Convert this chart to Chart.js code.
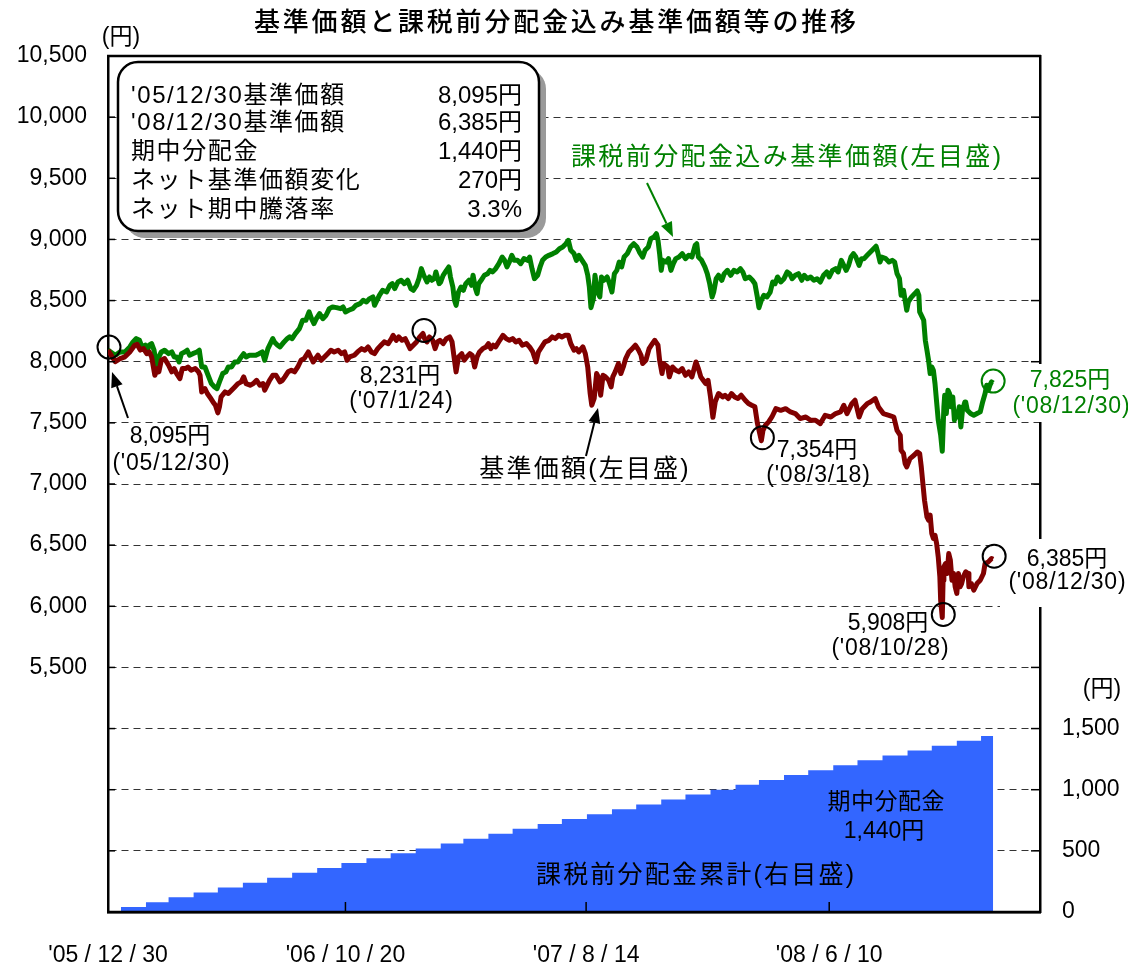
<!DOCTYPE html>
<html>
<head>
<meta charset="utf-8">
<script src="https://cdn.jsdelivr.net/npm/chart.js@4.4.1/dist/chart.umd.min.js"></script>
<style>
  html, body { margin: 0; padding: 0; background: #fff; }
  #wrap { width: 1128px; height: 969px; }
</style>
</head>
<body>
<div id="wrap"><canvas id="chart" width="1128" height="969"></canvas></div>
<script>
// --- data (x = days since '05/12/30) ---
const START = '2005-12-30';
const END = '2008-12-30';
const xTickDates = ['2005-12-30', '2006-10-20', '2007-08-14', '2008-06-10'];
const xTickLabels = ["'05 / 12 / 30", "'06 / 10 / 20", "'07 / 8 / 14", "'08 / 6 / 10"];

// 基準価額
const navDays = [
  0,9,15,21,27,33,36,40,44,48, 51,54,58,61,63,66,70,75,79,82, 85,89,92,96,99,103,108,112,114,116,
  120,123,126,130,133,136,138,140,145,149, 153,157,161,165,168,171,176,180,184,188, 192,194,196,200,204,208,213,216,219,223,
  227,231,235,239,243,248,250,254,257,260, 264,268,272,276,280,285,289,293,296,299,
  305,309,314,318,322,326,330,334,338,342, 347,351,353,357,360,364,368,371,374,378, 382,386,390,392,395,398,402,405,408,411,
  415,419,423,426,429,431,434,438,441,444, 448,451,454,457,460,464,468,471,474,477, 480,485,489,493,497,501,505,509,513,518,
  522,526,530,533,537,541,546,550,554,558, 562,566,570,573,577,580,583,588,591,594,
  597,599,602,605,607,610,613,616,620,623, 625,628,632,635,638,641,645,649,653,657, 660,662,666,670,674,677,681,683,686,688,
  693,695,699,703,707,711,715,719,723,728, 731,734,737,740,743,746,749,752,756,761, 764,768,772,776,780,784,789,793,797,801,
  804,809,
  811,814,818,822,827,833,839,845,851,857, 864,870,876,882,888,895,901,907,911,915, 921,925,930,934,940,944,950,954,960,967,
  973,
  977,981,982,985,987,989,993,998,1002,1005, 1007,1009,1011,1014,1016,1018,1020,1022,1024,1026,
  1028,1030,1031,1033,1034,1035,1037,1039,1041,1043, 1045,1047,1049,1051,1053,1055,1057,1059,1062,1065,
  1066,1069,1072,1076,1080,1084,1086,1090,1094,1096
];
const nav = [
  8095,8000,8025,8040,8080,8135,8143,8095,8107,8066, 8080,8040,7889,7944,7917,8012,8026,7971,7917,7944, 7903,7862,7944,7944,7957,7930,7944,7917,7889,7753,
  7780,7740,7712,7671,7644,7582,7631,7712,7753,7740, 7767,7794,7821,7835,7876,7821,7808,7821,7848,7808, 7821,7767,7794,7848,7889,7889,7835,7848,7876,7917,
  7930,7917,7957,8012,8026,8080,8053,7998,8026,8053, 8012,8039,8066,8094,8080,8094,8066,8080,8012,8039,
  8053,8080,8107,8094,8121,8080,8066,8107,8135,8162, 8148,8189,8216,8175,8203,8175,8189,8148,8107,8135, 8162,8203,8231,8189,8162,8203,8175,8107,8162,8175,
  8148,8189,8203,8162,8012,7917,8039,8066,8012,8039, 8066,8053,7957,8039,8080,8107,8121,8148,8107,8135, 8121,8175,8216,8189,8175,8189,8162,8175,8135,8148,
  8121,8080,7998,8080,8121,8162,8175,8203,8189,8216, 8203,8216,8216,8148,8094,8107,8080,8121,8066,7957,
  7740,7644,7699,7903,7876,7726,7889,7876,7848,7794, 7876,7917,7985,7903,7957,8026,8080,8107,8135,8094, 8053,7985,8012,8107,8148,8175,8135,8012,7903,7985,
  7957,7876,7957,7930,7917,7944,7889,7917,7876,7998, 7944,7876,7848,7821,7848,7712,7545,7675,7740,7712, 7726,7699,7740,7712,7699,7726,7685,7658,7644,7631,
  7500,7354,
  7439,7480,7508,7548,7616,7603,7616,7589,7576,7535, 7548,7521,7521,7494,7562,7548,7576,7589,7644,7576, 7657,7685,7548,7616,7657,7671,7698,7630,7576,7562,
  7548,
  7439,7398,7276,7249,7167,7140,7208,7235,7262,7249, 7140,7003,6867,6731,6704,6745,6595,6554,6581,6513,
  6404,6241,6050,5908,6213,6322,6350,6268,6431,6377, 6213,6268,6159,6105,6268,6159,6186,6241,6282,6268,
  6159,6186,6132,6186,6213,6268,6350,6363,6391,6385
];

// 課税前分配金込み基準価額
const adjDays = [
  0,9,15,21,27,31,35,39,42,46, 48,51,54,57,60,63,66,70,75,79, 82,85,88,91,95,98,101,105,110,113,
  116,120,124,128,132,135,138,142,146,149, 153,157,161,165,168,171,175,179,183,187, 191,194,198,204,206,210,213,218,222,225,
  228,232,237,241,245,249,252,255,258,262, 266,270,274,278,283,288,291,294,298,
  303,307,312,316,320,324,328,330,333,336, 340,345,349,352,355,359,363,367,371,375, 378,382,385,388,391,395,398,401,404,406,
  410,412,415,419,422,424,427,429,431,434, 437,440,443,447,450,452,455,457,459,462, 466,470,473,476,480,484,488,491,494,497,
  500,503,507,511,515,520,522,525,528,532, 535,538,542,546,551,555,559,563,567,570, 573,577,580,583,587,591,594,596,598,
  601,603,606,609,611,614,618,621,624,627, 630,633,636,639,643,647,651,655,658,662, 665,669,672,676,679,681,683,685,687,691,
  694,697,700,703,707,711,715,719,723,727, 729,731,735,739,742,745,748,750,753,756, 760,763,767,771,775,779,783,786,789,794,
  798,801,804,806,809,812,816,820,823,826, 829,833,837,841,844,847,851,855,859,862, 866,870,874,878,882,886,890,
  893,897,901,904,908,911,914,917,920,923, 926,930,933,936,940,944,948,951,953,956, 958,963,967,971,974,977,980,982,985,987,
  989,991,995,999,1002,1004,1005,1008,1010,1012, 1014,1016,1018,1020,1022,1024,1026,1028,1031,1033,
  1035,1036,1038,1040,1042,1044,1046,1048,1050,1052, 1054,1056,1058,1061,1062,1064,1068,1072,1076,1080,
  1083,1086,1088,1090,1092,1094,1096
];
const adj = [
  8095,8053,8080,8080,8121,8162,8189,8175,8121,8135, 8080,8135,8148,8094,7971,8039,8080,8094,8066,8080, 8039,8039,7998,8066,8080,8094,8053,8066,8080,8094,
  7957,7957,7889,7821,7794,7780,7835,7903,7917,7957, 7957,7998,7998,8039,8066,8039,8053,8053,8053,8066, 8080,8012,8107,8189,8162,8135,8121,8162,8189,8203,
  8189,8230,8271,8339,8339,8407,8352,8312,8352,8393, 8352,8380,8434,8448,8442,8434,8448,8407,8421,
  8434,8461,8475,8502,8489,8516,8530,8461,8502,8543, 8584,8570,8625,8638,8598,8652,8666,8638,8666,8598, 8584,8625,8679,8761,8707,8652,8693,8666,8679,8734,
  8638,8652,8707,8747,8775,8693,8611,8502,8461,8570, 8611,8584,8638,8666,8625,8707,8598,8557,8638,8666, 8707,8720,8747,8734,8761,8802,8856,8829,8775,8816,
  8870,8829,8829,8802,8843,8829,8856,8761,8679,8707, 8775,8829,8856,8870,8884,8897,8924,8938,8965,8993, 8911,8884,8829,8870,8829,8788,8707,8611,8442,
  8516,8707,8570,8530,8693,8666,8693,8638,8570,8720, 8747,8815,8775,8856,8884,8938,8965,8938,8897,8856, 8911,8938,9006,9020,9047,8993,8884,8747,8829,8815,
  8843,8747,8802,8843,8856,8884,8843,8870,8856,8952, 8965,8856,8829,8775,8720,8638,8529,8570,8679,8707, 8666,8720,8747,8707,8747,8734,8761,8734,8679,8693,
  8666,8638,8529,8442,8502,8543,8530,8570,8652,8638, 8693,8652,8679,8734,8720,8679,8707,8720,8666,8707, 8679,8693,8666,8679,8652,8707,8734,
  8693,8747,8761,8734,8829,8788,8747,8788,8856,8884, 8856,8788,8843,8843,8870,8897,8924,8944,8897,8815, 8856,8843,8815,8829,8815,8720,8679,8543,8584,8502,
  8421,8489,8530,8557,8579,8543,8407,8366,8339,8175, 8094,8012,7903,7957,7930,7821,7671,7522,7400,7268,
  7631,7726,7576,7767,7740,7631,7712,7522,7590,7549, 7631,7467,7603,7671,7671,7603,7576,7562,7576,7590,
  7671,7740,7808,7767,7808,7835,7825
];

// 課税前分配金累計 (monthly, 40円 each)
const distDates = [
  '2006-01-15','2006-02-15','2006-03-15','2006-04-15','2006-05-15','2006-06-15',
  '2006-07-15','2006-08-15','2006-09-15','2006-10-15','2006-11-15','2006-12-15',
  '2007-01-15','2007-02-15','2007-03-15','2007-04-15','2007-05-15','2007-06-15',
  '2007-07-15','2007-08-15','2007-09-15','2007-10-15','2007-11-15','2007-12-15',
  '2008-01-15','2008-02-15','2008-03-15','2008-04-15','2008-05-15','2008-06-15',
  '2008-07-15','2008-08-15','2008-09-15','2008-10-15','2008-11-15','2008-12-15'
];
const distCum = [
  40,80,120,160,200,240,280,320,360,400,440,480,
  520,560,600,640,680,720,760,800,840,880,920,960,
  1000,1040,1080,1120,1160,1200,1240,1280,1320,1360,1400,1440
];

// --- helpers ---
function dayOf(s) { return (Date.parse(s) - Date.parse(START)) / 86400000; }
const LAT = '"Liberation Sans", "Noto Sans CJK JP", sans-serif';
const JP = '"Noto Sans CJK JP", sans-serif';
const fmt = v => v.toLocaleString('en-US');

function txt(ctx, s, x, y, o) {
  ctx.save();
  ctx.font = o.font;
  ctx.fillStyle = o.color || '#000';
  ctx.textAlign = o.align || 'center';
  ctx.textBaseline = 'middle';
  const ls = o.ls || 0;
  ctx.letterSpacing = ls + 'px';
  let dx = 0;
  if (ls && ctx.textAlign === 'center') dx = ls / 2;
  if (ls && ctx.textAlign === 'right') dx = ls;
  ctx.fillText(s, x + dx, y);
  ctx.restore();
}

function arrow(ctx, x1, y1, x2, y2, color) {
  const a = Math.atan2(y2 - y1, x2 - x1), L = 15, W = 6;
  const bx = x2 - L * Math.cos(a), by = y2 - L * Math.sin(a);
  ctx.save();
  ctx.strokeStyle = color; ctx.fillStyle = color; ctx.lineWidth = 2;
  ctx.beginPath(); ctx.moveTo(x1, y1); ctx.lineTo(bx, by); ctx.stroke();
  ctx.beginPath();
  ctx.moveTo(x2, y2);
  ctx.lineTo(bx + W * Math.sin(a), by - W * Math.cos(a));
  ctx.lineTo(bx - W * Math.sin(a), by + W * Math.cos(a));
  ctx.closePath(); ctx.fill();
  ctx.restore();
}

function ring(ctx, x, y, color) {
  ctx.save();
  ctx.strokeStyle = color; ctx.lineWidth = 2;
  ctx.beginPath(); ctx.arc(x, y, 11.5, 0, Math.PI * 2); ctx.stroke();
  ctx.restore();
}

// --- annotations ---
const deco = {
  id: 'deco',
  afterDatasetsDraw(chart) {
    const ctx = chart.ctx, a = chart.chartArea;
    const sx = chart.scales.x, sy = chart.scales.y;
    const P = (d, v) => [sx.getPixelForValue(d), sy.getPixelForValue(v)];

    // white backgrounds behind right-hand labels (they cut the frame)
    ctx.fillStyle = '#fff';
    ctx.fillRect(1006, 364, 122, 58);
    ctx.fillRect(1000, 539, 128, 68);

    // frame: top line, bottom axis redrawn over the fill
    ctx.save();
    ctx.strokeStyle = '#000'; ctx.lineWidth = 2.5;
    ctx.beginPath(); ctx.moveTo(a.left - 1, a.top); ctx.lineTo(a.right + 1, a.top); ctx.stroke();
    ctx.beginPath(); ctx.moveTo(a.left - 1, a.bottom); ctx.lineTo(a.right + 1, a.bottom); ctx.stroke();
    // inward ticks
    ctx.lineWidth = 1.5;
    for (let v = 4000; v <= 10000; v += 500) {
      const y = sy.getPixelForValue(v);
      const coveredR = (y > 362 && y < 423) || (y > 537 && y < 608);
      ctx.beginPath(); ctx.moveTo(a.left, y); ctx.lineTo(a.left + 7, y); ctx.stroke();
      if (!coveredR) { ctx.beginPath(); ctx.moveTo(a.right - 9, y); ctx.lineTo(a.right, y); ctx.stroke(); }
    }
    xTickDates.forEach(d => {
      const x = sx.getPixelForValue(dayOf(d));
      ctx.beginPath(); ctx.moveTo(x, a.bottom); ctx.lineTo(x, a.bottom - 10); ctx.stroke();
    });
    ctx.restore();

    // summary box
    ctx.save();
    ctx.fillStyle = '#9a9a9a';
    ctx.beginPath(); ctx.roundRect(125, 69, 421, 169, 20); ctx.fill();
    ctx.fillStyle = '#fff'; ctx.strokeStyle = '#000'; ctx.lineWidth = 2.5;
    ctx.beginPath(); ctx.roundRect(118, 62, 421, 169, 20); ctx.fill(); ctx.stroke();
    ctx.restore();
    const boxL = ["'05/12/30基準価額", "'08/12/30基準価額", '期中分配金', 'ネット基準価額変化', 'ネット期中騰落率'];
    const boxR = ['8,095円', '6,385円', '1,440円', '270円', '3.3%'];
    const rowY = [96, 123, 152, 181, 210];
    boxL.forEach((s, i) => {
      txt(ctx, s, 131, rowY[i], { font: '24px ' + LAT, align: 'left', ls: 1.6 });
      txt(ctx, boxR[i], 522, rowY[i], { font: '24px ' + LAT, align: 'right', ls: 0 });
    });

    // circles on the lines
    const lastN = nav.length - 1, lastA = adj.length - 1;
    const p0 = P(navDays[0], nav[0]);
    const pHi = P(dayOf('2007-01-24'), 8231);
    const pLo1 = P(dayOf('2008-03-18'), 7354);
    const pLo2 = P(dayOf('2008-10-28'), 5908);
    const pEnd = P(navDays[lastN], nav[lastN]);
    const pEndA = P(adjDays[lastA], adj[lastA]);
    [p0, pHi, pLo1, pLo2, pEnd].forEach(p => ring(ctx, p[0] + 1, p[1] - 3, '#000'));
    ring(ctx, pEndA[0], pEndA[1] - 2, '#008000');

    const f = '23px ' + LAT;
    txt(ctx, '8,095円', 170, 437, { font: f });
    txt(ctx, "('05/12/30)", 171, 464, { font: f, ls: 0.8 });
    arrow(ctx, 128, 418, 112, 372, '#000');
    txt(ctx, '8,231円', 400, 377, { font: f });
    txt(ctx, "('07/1/24)", 401, 402, { font: f, ls: 0.8 });
    txt(ctx, '7,354円', 817, 451, { font: f });
    txt(ctx, "('08/3/18)", 818, 476, { font: f, ls: 0.8 });
    txt(ctx, '5,908円', 888, 624, { font: f });
    txt(ctx, "('08/10/28)", 890, 649, { font: f, ls: 0.8 });
    txt(ctx, '6,385円', 1067, 560, { font: f });
    txt(ctx, "('08/12/30)", 1067, 583, { font: f, ls: 0.8 });
    txt(ctx, '7,825円', 1070, 381, { font: f, color: '#008000' });
    txt(ctx, "('08/12/30)", 1071, 407, { font: f, ls: 0.8, color: '#008000' });

    // series labels
    txt(ctx, '課税前分配金込み基準価額(左目盛)', 786, 158, { font: '25px ' + LAT, ls: 2.4, color: '#008000' });
    arrow(ctx, 647, 183, 673, 237, '#008000');
    txt(ctx, '基準価額(左目盛)', 584, 470, { font: '25px ' + LAT, ls: 2.2 });
    arrow(ctx, 586, 456, 598, 408, '#000');
    txt(ctx, '期中分配金', 886, 803, { font: '23px ' + LAT, ls: 0.5 });
    txt(ctx, '1,440円', 884, 832, { font: '23px ' + LAT });
    txt(ctx, '課税前分配金累計(右目盛)', 695, 876, { font: '25px ' + LAT, ls: 2.2 });

    // title and units
    txt(ctx, '基準価額と課税前分配金込み基準価額等の推移', 555, 21, { font: '500 26px ' + JP, ls: 2.8 });
    txt(ctx, '(円)', 121, 38, { font: '23px ' + LAT });
    txt(ctx, '(円)', 1102, 690, { font: '23px ' + LAT });
  }
};

const distPoints = distDates.map((d, i) => ({ x: dayOf(d), y: distCum[i] }));
distPoints.push({ x: dayOf(END), y: distCum[distCum.length - 1] });

new Chart(document.getElementById('chart'), {
  type: 'line',
  data: {
    datasets: [
      {
        label: '基準価額',
        data: navDays.map((d, i) => ({ x: d, y: nav[i] })),
        borderColor: '#800000',
        borderWidth: 5,
        borderJoinStyle: 'round',
        pointRadius: 0,
        yAxisID: 'y'
      },
      {
        label: '課税前分配金込み基準価額',
        data: adjDays.map((d, i) => ({ x: d, y: adj[i] })),
        borderColor: '#008000',
        borderWidth: 5,
        borderJoinStyle: 'round',
        pointRadius: 0,
        yAxisID: 'y'
      },
      {
        label: '課税前分配金累計',
        data: distPoints,
        stepped: 'before',
        borderColor: '#3366ff',
        borderWidth: 0,
        backgroundColor: '#3366ff',
        fill: 'origin',
        pointRadius: 0,
        yAxisID: 'y2'
      }
    ]
  },
  options: {
    responsive: false,
    animation: false,
    devicePixelRatio: 1,
    layout: { padding: { top: 56, left: 0, right: 0, bottom: 0 } },
    plugins: { legend: { display: false }, tooltip: { enabled: false } },
    scales: {
      x: {
        type: 'linear',
        min: 0,
        max: 1154,
        afterBuildTicks: s => { s.ticks = xTickDates.map(d => ({ value: dayOf(d) })); },
        afterFit: s => { s.height = 57; },
        ticks: {
          autoSkip: false,
          maxRotation: 0,
          padding: 30,
          color: '#000',
          font: { family: LAT, size: 23 },
          callback: (v, i) => xTickLabels[i]
        },
        grid: { display: false, drawTicks: false },
        border: { display: true, color: '#000', width: 2.5 }
      },
      y: {
        position: 'left',
        min: 3500,
        max: 10500,
        afterFit: s => { s.width = 108; },
        ticks: {
          stepSize: 500,
          padding: 21,
          color: '#000',
          font: { family: LAT, size: 23 },
          callback: v => (v >= 5500 ? fmt(v) : '')
        },
        grid: {
          drawTicks: false,
          lineWidth: 1,
          color: c => (c.tick.value <= 3500 || c.tick.value >= 10500 ? 'rgba(0,0,0,0)' : '#333')
        },
        border: { display: true, color: '#000', width: 2.5, dash: [7, 5] }
      },
      y2: {
        position: 'right',
        min: 0,
        max: 7000,
        afterFit: s => { s.width = 88; },
        ticks: {
          stepSize: 500,
          padding: 22,
          color: '#000',
          font: { family: LAT, size: 23 },
          callback: v => (v <= 1500 ? fmt(v) : '')
        },
        grid: { display: false, drawTicks: false },
        border: { display: true, color: '#000', width: 2.5 }
      }
    }
  },
  plugins: [deco]
});
</script>
</body>
</html>
